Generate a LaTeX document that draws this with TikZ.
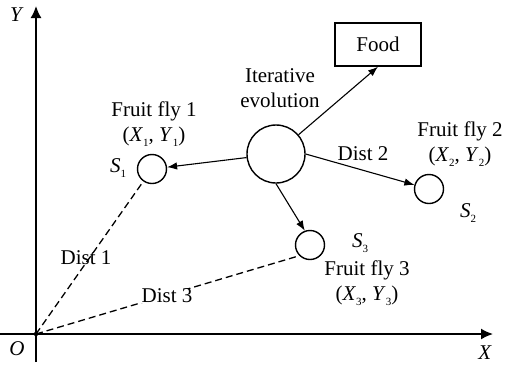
\documentclass[tikz,border=0pt]{standalone}
\usepackage{fontspec}
\setmainfont{Liberation Serif}
\usetikzlibrary{arrows.meta}
\newcommand\sbx[1]{\raisebox{-0.45ex}{\fontsize{11}{11}\selectfont #1}}
\begin{document}
\begin{tikzpicture}[x=1pt,y=-1pt,
  fly/.style={circle, draw, line width=1.4pt, minimum size=29pt, inner sep=0pt},
  lbl/.style={font=\fontsize{21}{25}\selectfont, align=center, inner sep=0pt},
  arr/.style={line width=1.1pt, -{Latex[length=10pt,width=7.5pt]}},
  axisline/.style={line width=1.6pt, -{Latex[length=12pt,width=11pt]}},
  distline/.style={dash pattern=on 7pt off 4pt, line width=1.3pt}]
\useasboundingbox (0,0) rectangle (506,368);
% axes
\coordinate (O) at (36,334);
\coordinate (xs) at (0,334);
\coordinate (xe) at (493,334);
\coordinate (ys) at (36,362);
\coordinate (ye) at (36,6);
\draw[axisline] (xs) -- (xe);
\draw[axisline] (ys) -- (ye);
\fill (O) circle (2.2pt);
\node[lbl] (lo) at (17,349) {\textit{O}};
\node[lbl] (lx) at (485,353) {\textit{X}};
\node[lbl] (ly) at (17,15) {\textit{Y}};
% nodes
\node[fly, minimum size=58pt] (big) at (276,154) {};
\node[fly] (f1) at (152,169) {};
\node[fly] (f2) at (429,189) {};
\node[fly] (f3) at (310,245) {};
\node[draw, line width=1.4pt, minimum width=86pt, minimum height=43pt, lbl] (food) at (378,44.5) {Food};
% labels
\node[lbl] (iter) at (280,88) {Iterative\\evolution};
\node[lbl] (t1) at (154,124) {Fruit fly 1\\(\textit{X}\sbx{1}, \textit{Y}\sbx{1})};
\node[lbl] (t2) at (460,144) {Fruit fly 2\\(\textit{X}\sbx{2}, \textit{Y}\sbx{2})};
\node[lbl] (t3) at (367,283) {Fruit fly 3\\(\textit{X}\sbx{3}, \textit{Y}\sbx{3})};
\node[lbl] (s1) at (118,168) {\textit{S}\sbx{1}};
\node[lbl] (s2) at (468,213) {\textit{S}\sbx{2}};
\node[lbl] (s3) at (360,243) {\textit{S}\sbx{3}};
% connectors
\draw[arr] (big) -- (f1);
\draw[arr] (big) -- (food.south);
\draw[arr] (big.east) -- (f2);
\draw[arr] (big.south) -- (f3.110);
\draw[distline] (O) -- (f1);
\draw[distline] (O) -- (f3.225);
\node[lbl] (d1) at (86,258) {Dist 1};
\node[lbl] (d2) at (363,154) {Dist 2};
\node[lbl, fill=white, inner xsep=2pt] (d3) at (167,296) {Dist 3};
\end{tikzpicture}
\end{document}
